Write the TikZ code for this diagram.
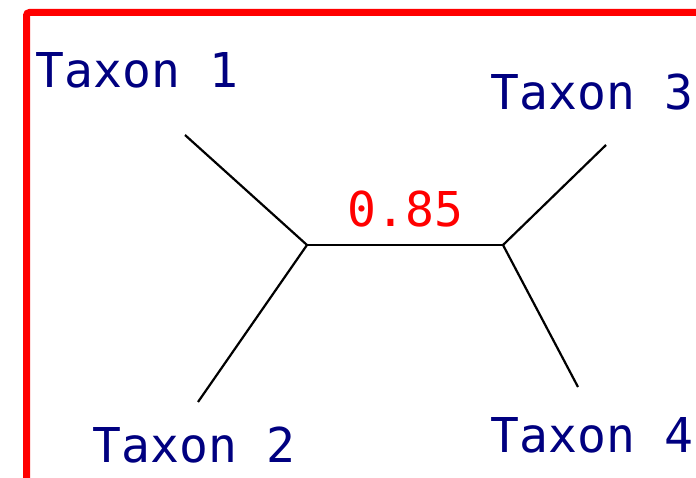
\documentclass[tikz,border=0pt]{standalone}
\usepackage{fontspec}
\setmonofont{DejaVu Sans Mono}
\definecolor{taxnavy}{HTML}{000080}
\begin{document}
\begin{tikzpicture}[x=1pt,y=-1pt,
  taxlabel/.style={anchor=base west,inner sep=0pt,text=taxnavy,font=\ttfamily\fontsize{48}{52}\selectfont},
  suplabel/.style={anchor=base west,inner sep=0pt,text=red,font=\ttfamily\fontsize{48}{52}\selectfont},
  branch/.style={draw=black,line width=2.2pt}]
\useasboundingbox (0,0) rectangle (696,478);
\clip (0,0) rectangle (696,478);
\fill[white] (0,0) rectangle (696,478);
\draw[red,line width=7pt,rounded corners=3pt] (26.5,12.5) rectangle (699.5,520);
\coordinate (in1) at (307,245);
\coordinate (in2) at (503,245);
\coordinate (l1) at (185,135);
\coordinate (l2) at (198,402);
\coordinate (l3) at (606,145);
\coordinate (l4) at (578,387);
\draw[branch] (l1) -- (in1);
\draw[branch] (l2) -- (in1);
\draw[branch] (in1) -- (in2);
\draw[branch] (l3) -- (in2);
\draw[branch] (l4) -- (in2);
\node[taxlabel] (t1) at (35.5,88) {Taxon 1};
\node[taxlabel] (t2) at (92.5,462) {Taxon 2};
\node[taxlabel] (t3) at (490.5,110) {Taxon 3};
\node[taxlabel] (t4) at (490.5,452) {Taxon 4};
\node[suplabel] (s) at (347.5,227) {0.85};
\end{tikzpicture}
\end{document}
